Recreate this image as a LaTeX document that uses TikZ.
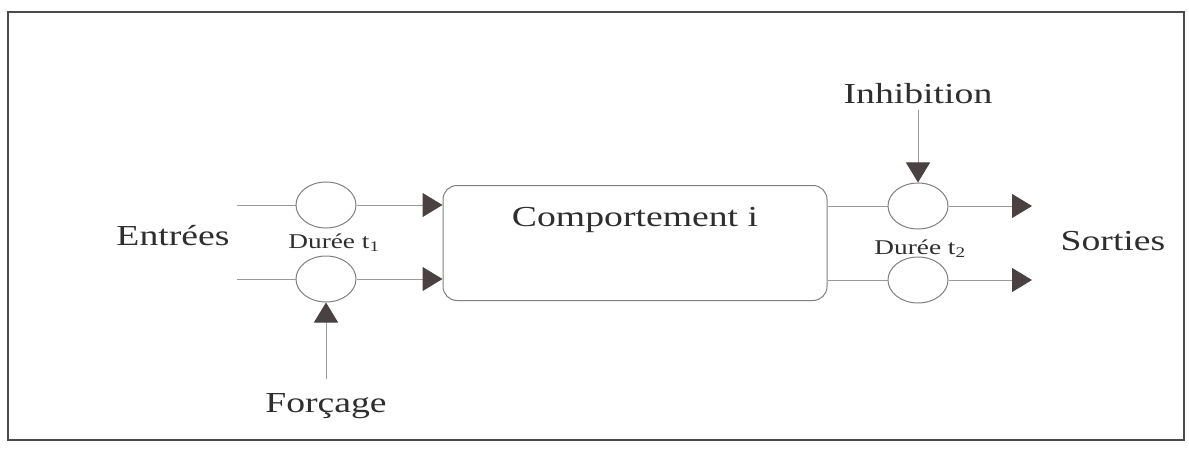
\documentclass[tikz,border=0pt]{standalone}
\usepackage{xcolor}
\usepackage{fontspec}
\setmainfont{Liberation Serif}[FakeStretch=1.3]
\usepackage{tikz}
\usetikzlibrary{shapes.geometric, arrows.meta, positioning}

\definecolor{framegray}{HTML}{4A4A4A}
\definecolor{wiregray}{HTML}{9A9A9A}
\definecolor{tipgray}{HTML}{4A4242}
\definecolor{inkgray}{HTML}{2E2E2E}

\begin{document}
\begin{tikzpicture}[
        x=1pt, y=1pt,
        every node/.style={text=inkgray},
        tag/.style={font=\fontsize{29}{34}\selectfont, anchor=base},
        small/.style={font=\fontsize{21}{25}\selectfont, anchor=base},
        block/.style={rectangle, draw=gray, line width=1pt, rounded corners=14pt, minimum width=384pt, minimum height=115pt},
        delay/.style={ellipse, draw=gray, line width=1pt, minimum width=60pt, minimum height=46pt, inner sep=0pt},
        wire/.style={draw=wiregray, line width=1pt},
        line/.style={draw=wiregray, line width=1pt, -{Triangle[length=20pt, width=24pt, color=tipgray]}}
    ]
    \useasboundingbox (0,0) rectangle (1189,448);
    \draw [framegray, line width=2pt] (8,8) rectangle (1184,436);

    % Nodes
    \node [block] (comp) at (635,205) {};
    \node [tag] (comptext) at ([yshift=17pt]comp.center) {Comportement i};
    \node [delay] (in1) at (326,243) {};
    \node [delay] (in2) at (326,169) {};
    \node [delay] (out1) at (918,242) {};
    \node [delay] (out2) at (918,168) {};
    \node [tag] (entrees) at (173,203) {Entrées};
    \node [tag] (sorties) at (1113,198) {Sorties};
    \node [tag] (forcage) at (326,36) {Forçage};
    \node [tag] (inhib) at (918,344) {Inhibition};
    \node [small] (duree1) at (334,200) {Durée t\textsubscript{1}};
    \node [small] (duree2) at (920,194) {Durée t\textsubscript{2}};

    \coordinate (src1) at (237,243);
    \coordinate (src2) at (237,169);
    \coordinate (dst1) at (1032,242);
    \coordinate (dst2) at (1032,168);

    % Edges
    \path [wire] (src1) -- (in1.west);
    \path [wire] (src2) -- (in2.west);
    \path [line] (in1.east) -- (in1.east -| comp.west);
    \path [line] (in2.east) -- (in2.east -| comp.west);
    \path [wire] (out1.west -| comp.east) -- (out1.west);
    \path [wire] (out2.west -| comp.east) -- (out2.west);
    \path [line] (out1.east) -- (dst1);
    \path [line] (out2.east) -- (dst2);
    \path [line, shorten <=10pt] (forcage.north) -- (in2.south);
    \path [line, shorten <=2pt] (inhib.south) -- (out1.north);

\end{tikzpicture}
\end{document}
